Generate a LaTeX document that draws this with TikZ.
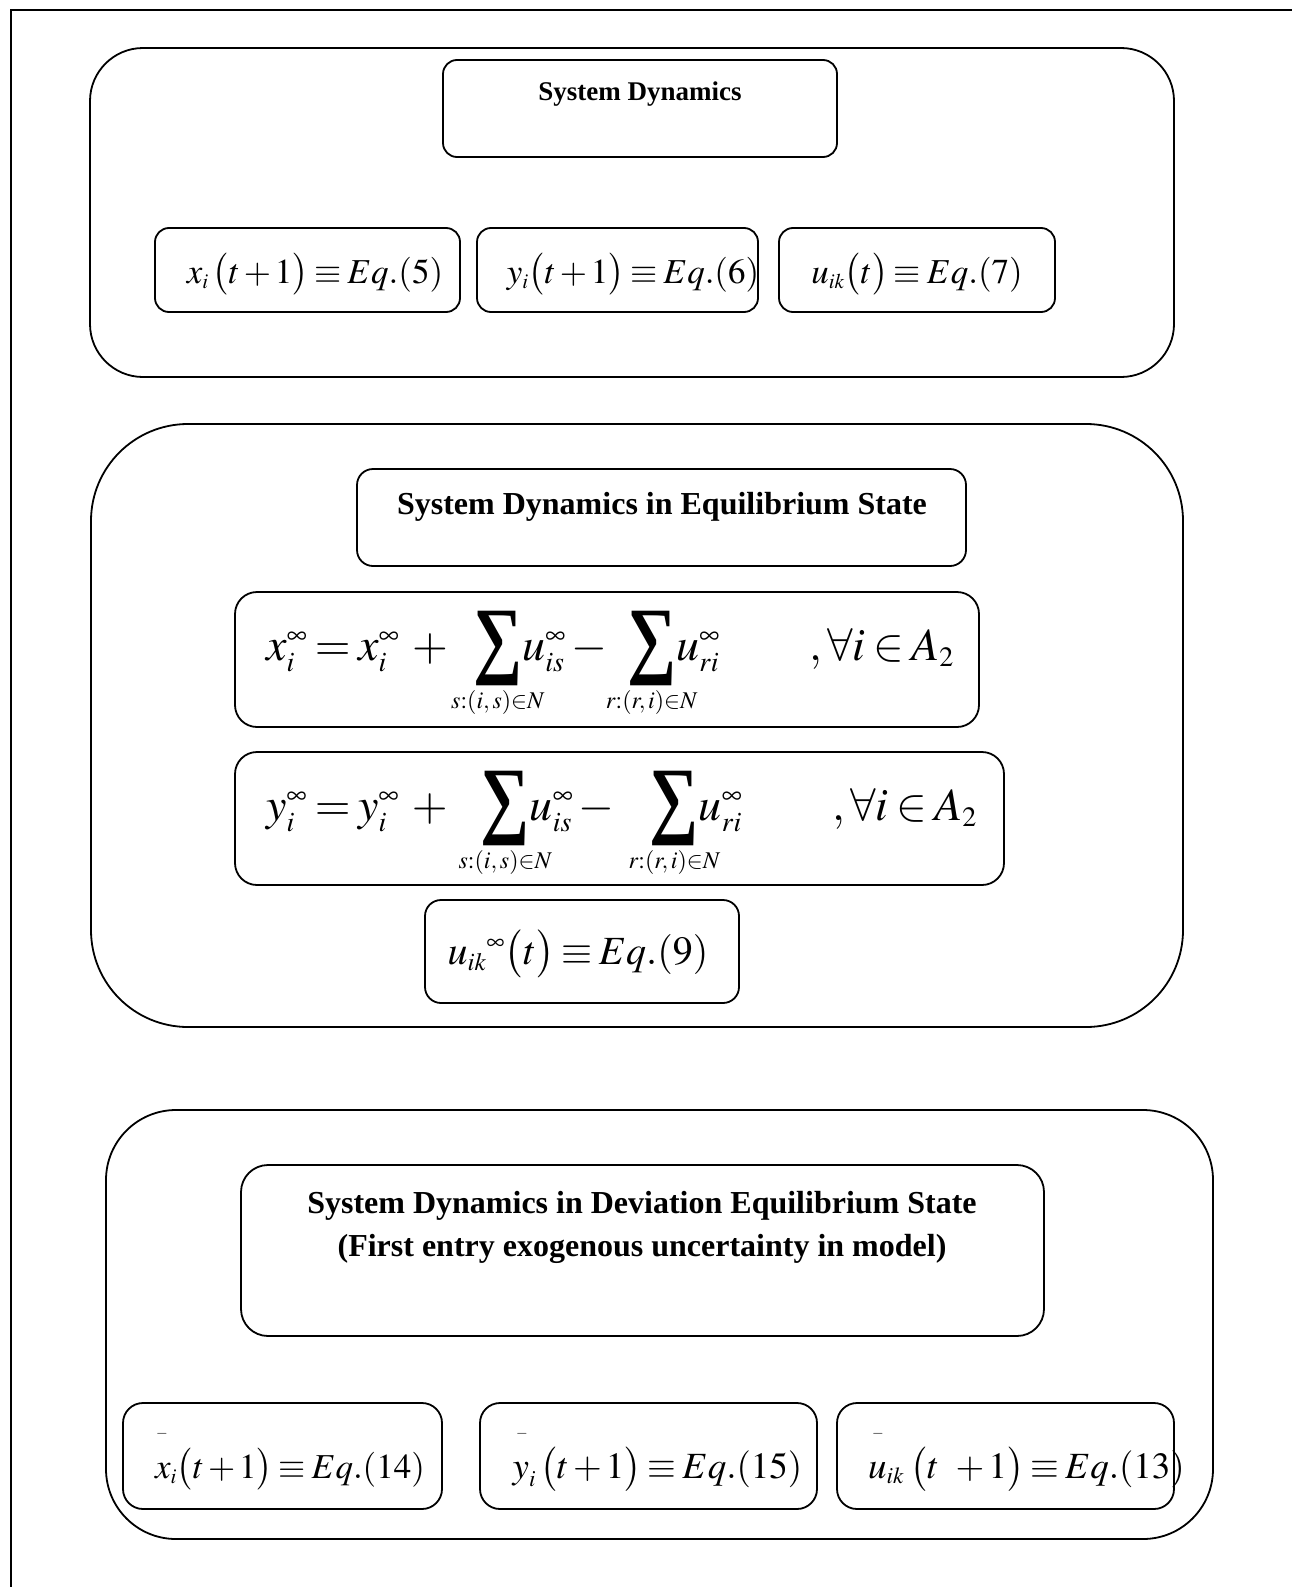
\documentclass[tikz,border=0pt]{standalone}
\usepackage{graphicx}
\usepackage{mathptmx}
\usepackage[no-math]{fontspec}
\setmainfont{Liberation Serif}
\DeclareMathSizes{35}{35}{21}{16}
\DeclareMathSizes{46}{46}{28}{21}
\DeclareMathSizes{40}{40}{25}{18}
\DeclareMathSizes{37}{37}{23}{17}
\DeclareMathSizes{24}{24}{15}{11}
\DeclareMathSizes{15}{15}{10}{8}
\medmuskip=2mu
\thickmuskip=3mu
\newsavebox{\sigbox}
\newcommand{\heavysum}[1]{%
  \sbox{\sigbox}{\scalebox{0.8}[1]{\fontsize{86}{86}\bfseries\selectfont\symbol{"2211}}}%
  \vcenter{\hbox{\usebox{\sigbox}}}%
  \llap{\makebox[\wd\sigbox]{\raisebox{-48pt}[0pt][0pt]{\fontsize{24}{24}\selectfont$#1$}}}}
\tikzset{
  box/.style={draw, line width=1.8pt, rectangle, inner sep=0pt, rounded corners=#1},
  box/.default=15pt,
  titletext/.style={inner sep=0pt, anchor=base, font=\bfseries\fontsize{#1}{#1}\selectfont},
  eqtext/.style={inner sep=0pt, anchor=base, font=\fontsize{#1}{#1}\selectfont},
  barmark/.style={inner sep=0pt, font=\fontsize{15}{15}\selectfont}
}
\begin{document}
\begin{tikzpicture}[x=1pt,y=-1pt]
\useasboundingbox (0,0) rectangle (1291,1587);
\node[draw, line width=2pt, inner sep=0pt, anchor=north west, minimum width=1500pt, minimum height=1800pt] (frame) at (10,9) {};

% ---- block 1
\node[box=53pt, minimum width=1084pt, minimum height=329pt] (blockA) at (632,212.5) {};
\node[box=14pt, minimum width=394pt, minimum height=97pt] (titleAbox) at (640,108.5) {};
\node[titletext=27] (titleA) at (640,100) {System Dynamics};
\node[box=14pt, minimum width=305pt, minimum height=84pt] (eqAxbox) at (307.5,270) {};
\node[box=14pt, minimum width=281pt, minimum height=84pt] (eqAybox) at (617.5,270) {};
\node[box=14pt, minimum width=276pt, minimum height=84pt] (eqAubox) at (917,270) {};
\node[eqtext=35] (eqAx) at (315,283) {$x_i\,\bigl(t+1\bigr)\equiv Eq.(5)$};
\node[eqtext=35] (eqAy) at (633,283) {$y_i\bigl(t+1\bigr)\equiv Eq.(6)$};
\node[eqtext=35] (eqAu) at (917,283) {$u_{ik}\bigl(t\bigr)\equiv Eq.(7)$};

% ---- block 2
\node[box=97pt, minimum width=1092pt, minimum height=603pt] (blockB) at (637,725.5) {};
\node[box=16pt, minimum width=609pt, minimum height=97pt] (titleBbox) at (661.5,517.5) {};
\node[titletext=32] (titleB) at (662,514) {System Dynamics in Equilibrium State};
\node[box=22pt, minimum width=744pt, minimum height=135pt] (eqBxbox) at (607,659.5) {};
\node[box=22pt, minimum width=769pt, minimum height=133pt] (eqBybox) at (619.5,818.5) {};
\node[box=16pt, minimum width=314pt, minimum height=103pt] (eqBubox) at (582,951.5) {};
\node[eqtext=46, anchor=base west] (eqBx) at (266,660) {\makebox[543pt][l]{$x_i^{\infty} = x_i^{\infty} \;+\;\;\, \heavysum{s{:}(i,s){\in}N} u_{is}^{\infty} - \;\;\heavysum{r{:}(r,i){\in}N} u_{ri}^{\infty}$}$,\forall i\in A_2$};
\node[eqtext=46, anchor=base west] (eqBy) at (266,820) {\makebox[566pt][l]{$y_i^{\infty} = y_i^{\infty} \;+\;\;\;\, \heavysum{s{:}(i,s){\in}N} u_{is}^{\infty} - \;\;\;\;\heavysum{r{:}(r,i){\in}N} u_{ri}^{\infty}$}$,\forall i\in A_2$};
\node[eqtext=40] (eqBu) at (578,964) {$u_{ik}{}^{\infty}\bigl(t\bigr)\equiv Eq.(9)$};

% ---- block 3
\node[box=70pt, minimum width=1107pt, minimum height=429pt] (blockC) at (659.5,1324.5) {};
\node[box=27pt, minimum width=803pt, minimum height=171pt] (titleCbox) at (642.5,1250.5) {};
\node[titletext=32] (titleC1) at (642,1213) {System Dynamics in Deviation Equilibrium State};
\node[titletext=32] (titleC2) at (642,1256) {(First entry exogenous uncertainty in model)};
\node[box=20pt, minimum width=319pt, minimum height=106pt] (eqCxbox) at (282.5,1456) {};
\node[box=20pt, minimum width=337pt, minimum height=106pt] (eqCybox) at (648.5,1456) {};
\node[box=20pt, minimum width=337pt, minimum height=106pt] (eqCubox) at (1005.5,1456) {};
\node[eqtext=35] (eqCx) at (290,1478) {$x_i\bigl(t+1\bigr)\equiv Eq.(14)$};
\node[eqtext=37] (eqCy) at (657.5,1478) {$y_{\raisebox{-3pt}{$\scriptstyle i$}}\,\bigl(t+1\bigr)\equiv Eq.(15)$};
\node[eqtext=37] (eqCu) at (1026.5,1478) {$u_{ik}\;\bigl(t\;\;+1\bigr)\equiv Eq.(13)$};
\node[barmark] (barx) at (162,1434) {$-$};
\node[barmark] (bary) at (522,1434) {$-$};
\node[barmark] (baru) at (878,1434) {$-$};
\end{tikzpicture}
\end{document}
